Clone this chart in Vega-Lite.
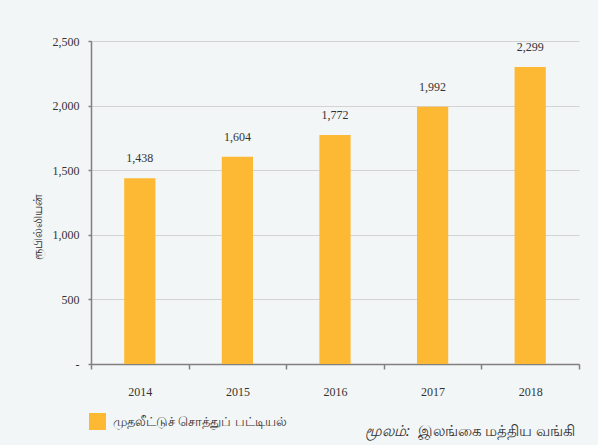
{
  "$schema": "https://vega.github.io/schema/vega-lite/v6.json",
  "width": 488,
  "height": 323,
  "autosize": "none",
  "padding": {"left": 91, "top": 41, "right": 19, "bottom": 81},
  "background": "#f3f6f6",
  "config": {"view": {"stroke": null}},
  "title": {
    "text": "மூலம்:",
    "orient": "bottom",
    "anchor": "start",
    "frame": "group",
    "dx": 274,
    "offset": -14,
    "fontStyle": "italic",
    "fontWeight": "normal",
    "fontSize": 15,
    "font": "Noto Sans",
    "color": "#333333"
  },
  "data": {
    "values": [
      {"year": "2014", "value": 1438, "series": "முதலீட்டுச் சொத்துப் பட்டியல்"},
      {"year": "2015", "value": 1604, "series": "முதலீட்டுச் சொத்துப் பட்டியல்"},
      {"year": "2016", "value": 1772, "series": "முதலீட்டுச் சொத்துப் பட்டியல்"},
      {"year": "2017", "value": 1992, "series": "முதலீட்டுச் சொத்துப் பட்டியல்"},
      {"year": "2018", "value": 2299, "series": "முதலீட்டுச் சொத்துப் பட்டியல்"}
    ]
  },
  "encoding": {
    "x": {
      "field": "year",
      "type": "nominal",
      "scale": {"paddingInner": 0, "paddingOuter": 0},
      "axis": {
        "title": "இலங்கை மத்திய வங்கி",
        "titleX": 326,
        "titleY": 66,
        "titleAlign": "left",
        "titleBaseline": "middle",
        "titleFont": "Noto Sans",
        "titleFontSize": 15,
        "titleFontWeight": "normal",
        "titleColor": "#333333",
        "titleLimit": 0,
        "labelAngle": 0,
        "labelFont": "Liberation Serif",
        "labelFontSize": 12,
        "labelColor": "#333333",
        "labelPadding": 17,
        "tickBand": "extent",
        "tickSize": 5,
        "tickColor": "#808080",
        "tickWidth": 1.5,
        "domainColor": "#808080",
        "domainWidth": 1.5,
        "grid": false
      }
    },
    "y": {
      "field": "value",
      "type": "quantitative",
      "scale": {"domain": [0, 2500], "nice": false},
      "axis": {
        "values": [0, 500, 1000, 1500, 2000, 2500],
        "labelExpr": "datum.value == 0 ? '-' : format(datum.value, ',')",
        "labelFont": "Liberation Serif",
        "labelFontSize": 12,
        "labelColor": "#333333",
        "labelPadding": 9,
        "tickSize": 3,
        "tickColor": "#808080",
        "tickWidth": 1.5,
        "domainColor": "#808080",
        "domainWidth": 1.5,
        "gridColor": "#d3d3d3",
        "gridWidth": 1,
        "title": "ரூபில்லியன்",
        "titleX": -54,
        "titleY": 185,
        "titleAlign": "center",
        "titleBaseline": "middle",
        "titleFont": "Noto Sans",
        "titleFontSize": 12,
        "titleFontWeight": "normal",
        "titleColor": "#333333"
      }
    }
  },
  "layer": [
    {
      "mark": {"type": "bar", "width": {"band": 0.32}},
      "encoding": {
        "color": {
          "field": "series",
          "type": "nominal",
          "scale": {"range": ["#fdb933"]},
          "legend": {
            "orient": "none",
            "legendX": -2,
            "legendY": 372,
            "title": null,
            "padding": 0,
            "symbolType": "square",
            "symbolSize": 289,
            "symbolStrokeWidth": 0,
            "symbolOpacity": 1,
            "labelFont": "Noto Sans",
            "labelFontSize": 13,
            "labelColor": "#333333",
            "labelOffset": 7,
            "labelLimit": 0
          }
        }
      }
    },
    {
      "mark": {
        "type": "text",
        "baseline": "alphabetic",
        "dy": -16,
        "font": "Liberation Serif",
        "fontSize": 12,
        "color": "#333333"
      },
      "encoding": {
        "text": {"field": "value", "type": "quantitative", "format": ","}
      }
    }
  ]
}
